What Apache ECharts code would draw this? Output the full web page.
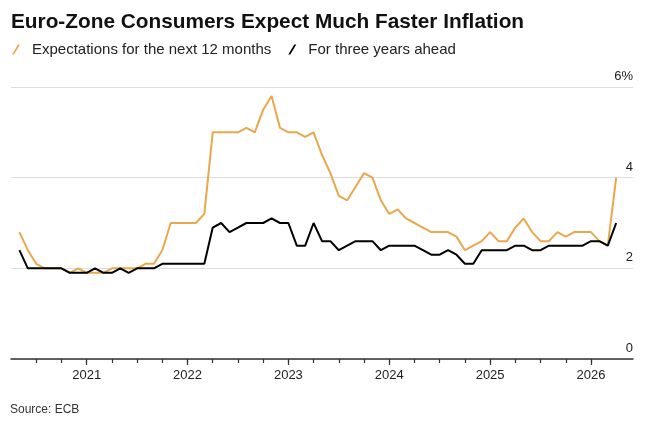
<!DOCTYPE html>
<html>
<head>
<meta charset="utf-8">
<script src="https://cdn.jsdelivr.net/npm/echarts@6/dist/echarts.min.js"></script>
<style>
html,body{margin:0;padding:0;background:#fff;}
#chart{width:658px;height:427px;}
</style>
</head>
<body>
<div id="chart"></div>
<script>
// Monthly survey data, May 2020 .. Apr 2026
var firstMonth = '2020-05';
var nextTwelveMonths = [2.8, 2.4, 2.1, 2.0, 2.0, 2.0, 1.9, 2.0, 1.9, 1.9, 1.9, 2.0, 2.0, 2.0, 2.0, 2.1, 2.1, 2.4, 3.0, 3.0, 3.0, 3.0, 3.2,
  5.0, 5.0, 5.0, 5.0, 5.1, 5.0, 5.5, 5.8, 5.1, 5.0, 5.0, 4.9, 5.0,
  4.5, 4.1, 3.6, 3.5, 3.8, 4.1, 4.0, 3.5, 3.2, 3.3, 3.1, 3.0,
  2.9, 2.8, 2.8, 2.8, 2.7, 2.4, 2.5, 2.6, 2.8, 2.6, 2.6, 2.9,
  3.1, 2.8, 2.6, 2.6, 2.8, 2.7, 2.8, 2.8, 2.8, 2.6, 2.5, 4.0];
var threeYearsAhead = [2.4, 2.0, 2.0, 2.0, 2.0, 2.0, 1.9, 1.9, 1.9, 2.0, 1.9, 1.9, 2.0, 1.9, 2.0, 2.0, 2.0, 2.1, 2.1, 2.1, 2.1, 2.1, 2.1,
  2.9, 3.0, 2.8, 2.9, 3.0, 3.0, 3.0, 3.1, 3.0, 3.0, 2.5, 2.5, 3.0,
  2.6, 2.6, 2.4, 2.5, 2.6, 2.6, 2.6, 2.4, 2.5, 2.5, 2.5, 2.5,
  2.4, 2.3, 2.3, 2.4, 2.3, 2.1, 2.1, 2.4, 2.4, 2.4, 2.4, 2.5,
  2.5, 2.4, 2.4, 2.5, 2.5, 2.5, 2.5, 2.5, 2.6, 2.6, 2.5, 3.0];
var seriesNames = ['Expectations for the next 12 months', 'For three years ahead'];
var yTicks = [0, 2, 4, 6];
// axis domain: Apr 2020 .. Jun 2026; quarterly ticks Jul 2020 .. Jan 2026
var axisStart = [2020, 4], axisEnd = [2026, 6];
var firstTick = '2020-07', lastTick = '2026-01';

var categories = [];
(function(){
  var y = axisStart[0], m = axisStart[1];
  while (y < axisEnd[0] || (y === axisEnd[0] && m <= axisEnd[1])) {
    categories.push(y + '-' + (m < 10 ? '0' + m : m));
    m++; if (m > 12) { m = 1; y++; }
  }
})();
var offset = categories.indexOf(firstMonth);
function align(vals) {
  return categories.map(function(c, i){
    var k = i - offset;
    return (k >= 0 && k < vals.length) ? vals[k] : null;
  });
}
function monthOf(c){ return parseInt(c.slice(5), 10); }

var chart = echarts.init(document.getElementById('chart'), null, {renderer: 'canvas'});
var font = 'Liberation Sans, Arial, sans-serif';
var slash = 'path://M0,10 L6,0 L8,0 L2,10 Z';
chart.setOption({
  animation: false,
  title: {
    text: 'Euro-Zone Consumers Expect Much Faster Inflation',
    left: 11, top: 11, padding: 0,
    textStyle: {fontFamily: font, fontSize: 20.8, fontWeight: 'bold', color: '#111', lineHeight: 22}
  },
  legend: {
    left: 12, top: 42, padding: 0,
    itemWidth: 8, itemHeight: 10, itemGap: 17,
    data: [{name: seriesNames[0], icon: slash}, {name: seriesNames[1], icon: slash}],
    textStyle: {fontFamily: font, fontSize: 15, color: '#222', padding: [0, 0, 0, 7]},
    selectedMode: false
  },
  grid: {left: 11, right: 25, top: 87, bottom: 68, containLabel: false},
  xAxis: [{
    type: 'category', data: categories, boundaryGap: false,
    axisLine: {lineStyle: {color: '#333', width: 1.5}},
    axisTick: {show: true, length: 4, lineStyle: {color: '#333', width: 1.2},
      interval: function(i, c){ return c >= firstTick && c <= lastTick && (monthOf(c) - 1) % 3 === 0; }},
    axisLabel: {show: false},
    splitLine: {show: false}
  }, {
    type: 'category', data: categories, boundaryGap: false, position: 'bottom',
    axisLine: {show: false},
    axisTick: {show: true, length: 6, lineStyle: {color: '#333', width: 1.2},
      interval: function(i, c){ return monthOf(c) === 1; }},
    axisLabel: {show: true, margin: 10, fontFamily: font, fontSize: 13, color: '#222',
      interval: function(i, c){ return monthOf(c) === 1; },
      formatter: function(c){ return c.slice(0, 4); }},
    splitLine: {show: false}
  }],
  yAxis: {
    type: 'value', position: 'right', min: yTicks[0], max: yTicks[yTicks.length - 1], interval: 2,
    axisLine: {show: false}, axisTick: {show: false},
    splitLine: {lineStyle: {color: '#dedede', width: 1}},
    axisLabel: {inside: true, margin: 0, fontFamily: font, fontSize: 13, color: '#222',
      verticalAlign: 'bottom', padding: [0, 0, 4, 0],
      formatter: function(v){ return v === yTicks[yTicks.length - 1] ? v + '%' : String(v); }}
  },
  series: [{
    name: seriesNames[0], type: 'line', data: align(nextTwelveMonths), xAxisIndex: 0,
    showSymbol: false, symbol: 'none', connectNulls: false,
    lineStyle: {color: '#E9A84B', width: 2}, itemStyle: {color: '#E9A84B'}
  }, {
    name: seriesNames[1], type: 'line', data: align(threeYearsAhead), xAxisIndex: 0,
    showSymbol: false, symbol: 'none',
    lineStyle: {color: '#000', width: 2}, itemStyle: {color: '#000'}
  }],
  graphic: [{
    type: 'text', left: 10, top: 404,
    style: {text: 'Source: ECB', fontFamily: font, fontSize: 12, fill: '#333'}
  }]
});
</script>
</body>
</html>
